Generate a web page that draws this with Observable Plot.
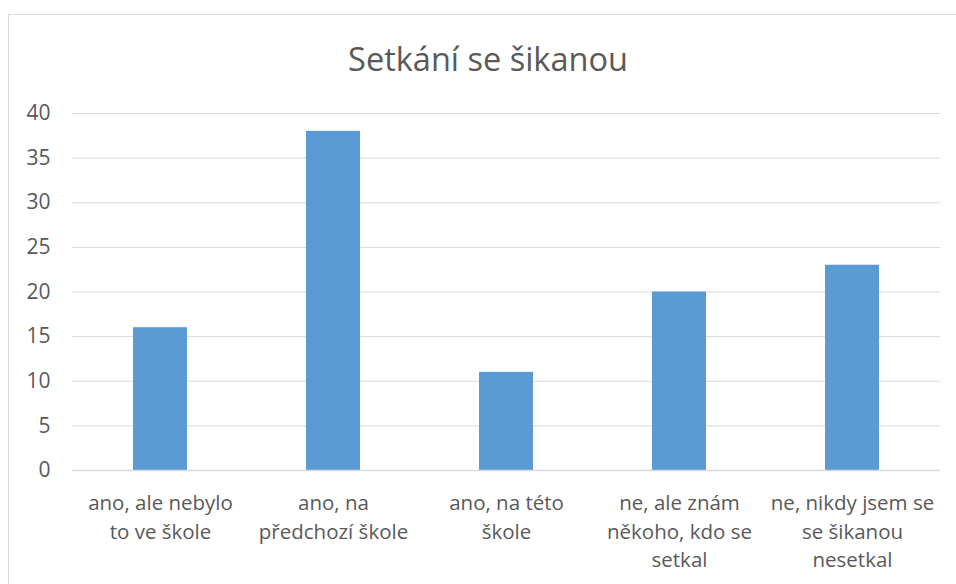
<!DOCTYPE html>
<html>
<head>
<meta charset="utf-8">
<script src="https://cdn.jsdelivr.net/npm/d3@7"></script>
<script src="https://cdn.jsdelivr.net/npm/@observablehq/plot@0.6"></script>
<style>
  html, body { margin: 0; padding: 0; background: #fff; }
  #wrap { position: relative; width: 956px; height: 584px; overflow: hidden; font-family: "Open Sans", sans-serif; }
  #frame { position: absolute; left: 8px; top: 14px; width: 970px; height: 600px; border: 1px solid #d9d9d9; box-sizing: border-box; }
  #title { position: absolute; left: 8px; width: 960px; top: 36px; text-align: center; font-size: 32.5px; color: #595959; line-height: 46px; }
  #chart { position: absolute; left: 0; top: 0; }
</style>
</head>
<body>
<div id="wrap">
  <div id="frame"></div>
  <div id="title">Setkání se šikanou</div>
  <div id="chart"></div>
</div>
<script>
const categories = [
  "ano, ale nebylo to ve škole",
  "ano, na předchozí škole",
  "ano, na této škole",
  "ne, ale znám někoho, kdo se setkal",
  "ne, nikdy jsem se se šikanou nesetkal"
];
const values = [16, 38, 11, 20, 23];
const tickLabels = [
  "ano, ale nebylo\nto ve škole",
  "ano, na\npředchozí škole",
  "ano, na této\nškole",
  "ne, ale znám\nněkoho, kdo se\nsetkal",
  "ne, nikdy jsem se\nse šikanou\nnesetkal"
];
const yTicks = [0, 5, 10, 15, 20, 25, 30, 35, 40];

const data = categories.map((c, i) => ({category: c, value: values[i]}));
const labelOf = new Map(categories.map((c, i) => [c, tickLabels[i]]));

const chart = Plot.plot({
  width: 956,
  height: 584,
  marginTop: 113,
  marginBottom: 114,
  marginLeft: 72,
  marginRight: 16,
  style: {fontFamily: "Open Sans, sans-serif", color: "#595959", background: "transparent", overflow: "visible"},
  x: {domain: categories, paddingInner: 0.69, paddingOuter: 0.345, label: null},
  y: {domain: [0, 40], label: null},
  marks: [
    Plot.gridY(yTicks, {stroke: "#d9d9d9", strokeOpacity: 1, strokeWidth: 1}),
    Plot.barY(data, {x: "category", y: "value", fill: "#5b9bd5"}),
    Plot.ruleY([0], {stroke: "#d9d9d9", strokeWidth: 1.3}),
    Plot.axisY(yTicks, {tickSize: 0, tickPadding: 22, fontSize: 21, fill: "#595959", label: null}),
    Plot.axisX({tickSize: 0, tickPadding: 20, fontSize: 20.5, fill: "#595959", lineHeight: 1.37, tickFormat: d => labelOf.get(d), lineAnchor: "top", label: null})
  ]
});
document.getElementById("chart").appendChild(chart);
</script>
</body>
</html>
